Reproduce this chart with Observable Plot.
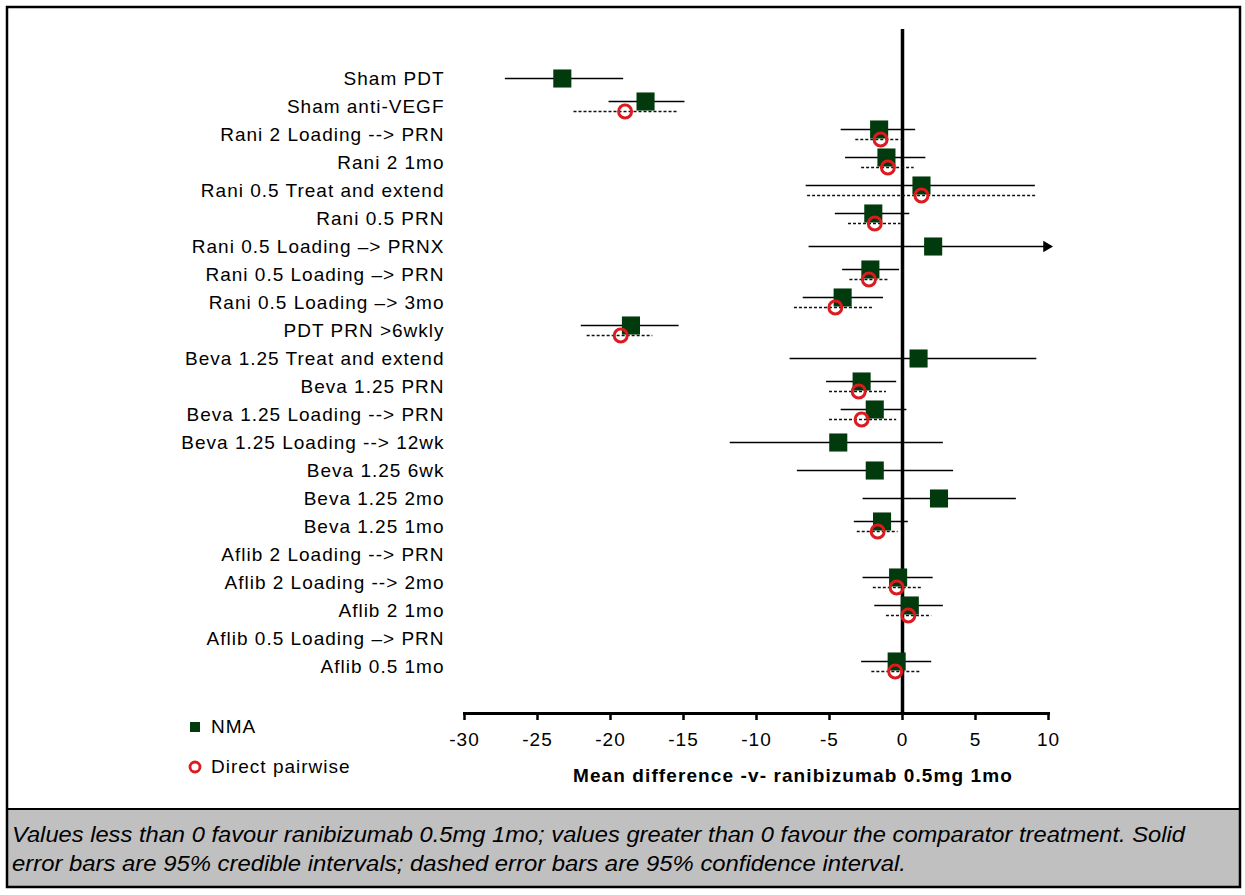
<!DOCTYPE html>
<html>
<head>
<meta charset="utf-8">
<script src="https://cdn.jsdelivr.net/npm/d3@7"></script>
<script src="https://cdn.jsdelivr.net/npm/@observablehq/plot@0.6"></script>
<style>
  html, body { margin: 0; padding: 0; background: #fff; }
  #fig { position: relative; width: 1245px; height: 895px; font-family: "Liberation Sans", Arial, sans-serif; }
  #fig > svg { position: absolute; left: 0; top: 0; }
</style>
</head>
<body>
<div id="fig"></div>
<script>
// Treatments, top to bottom
const treatments = [
  "Sham PDT",
  "Sham anti-VEGF",
  "Rani 2 Loading --> PRN",
  "Rani 2 1mo",
  "Rani 0.5 Treat and extend",
  "Rani 0.5 PRN",
  "Rani 0.5 Loading \u2013> PRNX",
  "Rani 0.5 Loading \u2013> PRN",
  "Rani 0.5 Loading \u2013> 3mo",
  "PDT PRN >6wkly",
  "Beva 1.25 Treat and extend",
  "Beva 1.25 PRN",
  "Beva 1.25 Loading --> PRN",
  "Beva 1.25 Loading --> 12wk",
  "Beva 1.25 6wk",
  "Beva 1.25 2mo",
  "Beva 1.25 1mo",
  "Aflib 2 Loading --> PRN",
  "Aflib 2 Loading --> 2mo",
  "Aflib 2 1mo",
  "Aflib 0.5 Loading \u2013> PRN",
  "Aflib 0.5 1mo"
];

// Network meta-analysis: mean difference and 95% credible interval
const nmaMean = [-23.3, -17.6, -1.6, -1.1, 1.3, -2.0, 2.1, -2.2, -4.1, -18.6, 1.1, -2.8, -1.9, -4.4, -1.9, 2.5, -1.4, null, -0.3, 0.5, null, -0.4];
const nmaLow  = [-27.2, -20.1, -4.2, -3.9, -6.6, -4.6, -6.4, -4.1, -6.8, -22.0, -7.7, -5.2, -4.2, -11.8, -7.2, -2.7, -3.3, null, -2.7, -1.9, null, -2.8];
const nmaHigh = [-19.1, -14.9, 0.9, 1.6, 9.1, 0.5, 12.0, -0.2, -1.3, -15.3, 9.2, -0.4, 0.3, 2.8, 3.5, 7.8, 0.4, null, 2.1, 2.8, null, 2.0];

// Direct pairwise meta-analysis: mean difference and 95% confidence interval
const dirMean = [null, -19.0, -1.5, -1.0, 1.3, -1.9, null, -2.3, -4.6, -19.3, null, -3.0, -2.8, null, null, null, -1.7, null, -0.4, 0.4, null, -0.5];
const dirLow  = [null, -22.5, -3.2, -2.8, -6.5, -3.7, null, -3.6, -7.4, -21.6, null, -5.0, -5.0, null, null, null, -3.1, null, -2.0, -1.1, null, -2.1];
const dirHigh = [null, -15.4, -0.1, 0.8, 9.2, -0.1, null, -0.9, -2.0, -17.1, null, -1.1, -0.4, null, null, null, -0.3, null, 1.3, 2.0, null, 1.2];

const xTicks = [-30, -25, -20, -15, -10, -5, 0, 5, 10];
const xDomain = [-30, 10];
const xTitle = "Mean difference -v- ranibizumab 0.5mg 1mo";
const captionLines = [
  "Values less than 0 favour ranibizumab 0.5mg 1mo; values greater than 0 favour the comparator treatment. Solid",
  "error bars are 95% credible intervals; dashed error bars are 95% confidence interval."
];
const legendItems = ["NMA", "Direct pairwise"];

const NMA_COLOR = "#013a0c";
const DIR_COLOR = "#dd1a1f";
const FONT = "Liberation Sans, Arial, sans-serif";

const rows = treatments.map((name, i) => ({
  name,
  nma: nmaMean[i], nmaLo: nmaLow[i], nmaHi: nmaHigh[i],
  dir: dirMean[i], dirLo: dirLow[i], dirHi: dirHigh[i]
}));
const nmaRows = rows.filter(d => d.nma != null);
const nmaPaired = nmaRows.filter(d => d.dir != null);   // shifted up when a direct estimate sits below
const nmaAlone = nmaRows.filter(d => d.dir == null);
const dirRows = rows.filter(d => d.dir != null);
const xMax = xDomain[1];

const fig = document.getElementById("fig");

// Background layer: border, caption panel, legend and axis title
const bg = d3.select(fig).append("svg")
  .attr("xmlns", "http://www.w3.org/2000/svg").attr("width", 1245).attr("height", 895);
bg.append("rect").attr("x", 7).attr("y", 808).attr("width", 1233).attr("height", 79).attr("fill", "#c0c0c0");
bg.append("line").attr("x1", 7).attr("x2", 1240).attr("y1", 809).attr("y2", 809).attr("stroke", "#000").attr("stroke-width", 2);
bg.append("rect").attr("x", 7).attr("y", 7).attr("width", 1233).attr("height", 880)
  .attr("fill", "none").attr("stroke", "#000").attr("stroke-width", 2.5);
captionLines.forEach((t, i) => {
  const widths = [1173, 894];
  bg.append("text").attr("x", 12).attr("y", 842 + i * 29)
    .attr("font-size", 22).attr("font-style", "italic")
    .attr("font-family", FONT)
    .attr("textLength", widths[i]).attr("lengthAdjust", "spacingAndGlyphs")
    .text(t);
});
// Legend
bg.append("rect").attr("x", 190).attr("y", 722).attr("width", 10).attr("height", 10).attr("fill", NMA_COLOR);
bg.append("circle").attr("cx", 195).attr("cy", 767).attr("r", 5).attr("fill", "none").attr("stroke", DIR_COLOR).attr("stroke-width", 2.8);
legendItems.forEach((t, i) => {
  bg.append("text").attr("x", 211).attr("y", 733 + i * 40)
    .attr("font-size", 19).attr("letter-spacing", "1px").attr("font-family", FONT).text(t);
});
bg.append("text").attr("x", 793).attr("y", 782).attr("text-anchor", "middle")
  .attr("font-size", 19).attr("font-weight", "bold").attr("letter-spacing", "1.1px")
  .attr("font-family", FONT).text(xTitle);

// Forest plot
const chart = Plot.plot({
  width: 1245,
  height: 800,
  marginLeft: 464,
  marginRight: 197,
  marginTop: 29,
  marginBottom: 87,
  style: { fontFamily: FONT, fontSize: "19px", letterSpacing: "1px", color: "#000", background: "transparent", overflow: "visible" },
  x: { domain: xDomain, ticks: xTicks },
  y: { type: "point", domain: treatments, range: [59.3, 683.7] },
  marks: [
    Plot.ruleX([0], { stroke: "#000", strokeWidth: 3.5 }),
    Plot.frame({ anchor: "bottom", stroke: "#000", strokeWidth: 3 }),
    Plot.axisX({ ticks: xTicks, tickFormat: d => String(d), tickSize: 7, tickPadding: 12, strokeWidth: 2.5, fontSize: 19, label: null }),
    Plot.axisY({ tickSize: 0, tickPadding: 20, fontSize: 19, label: null }),
    // 95% credible intervals (solid)
    Plot.ruleY(nmaPaired, { y: "name", x1: "nmaLo", x2: d => Math.min(d.nmaHi, xMax), dy: -5, stroke: "#000", strokeWidth: 1.3 }),
    Plot.ruleY(nmaAlone, { y: "name", x1: "nmaLo", x2: d => Math.min(d.nmaHi, xMax), stroke: "#000", strokeWidth: 1.3 }),
    // Intervals running past the axis end get an arrowhead
    Plot.dot(nmaAlone.filter(d => d.nmaHi > xMax), { x: () => xMax, y: "name", symbol: "triangle", rotate: 90, r: 4.2, dx: -2, fill: "#000" }),
    // 95% confidence intervals (dashed)
    Plot.ruleY(dirRows, { y: "name", x1: "dirLo", x2: "dirHi", dy: 5, stroke: "#111", strokeWidth: 1.3, strokeDasharray: "3,2" }),
    // Point estimates
    Plot.dot(nmaPaired, { x: "nma", y: "name", dy: -5, symbol: "square", r: 10.2, fill: NMA_COLOR }),
    Plot.dot(nmaAlone, { x: "nma", y: "name", symbol: "square", r: 10.2, fill: NMA_COLOR }),
    Plot.dot(dirRows, { x: "dir", y: "name", dy: 5, r: 6.5, fill: "none", stroke: DIR_COLOR, strokeWidth: 3 })
  ]
});
fig.appendChild(chart);
</script>
</body>
</html>
